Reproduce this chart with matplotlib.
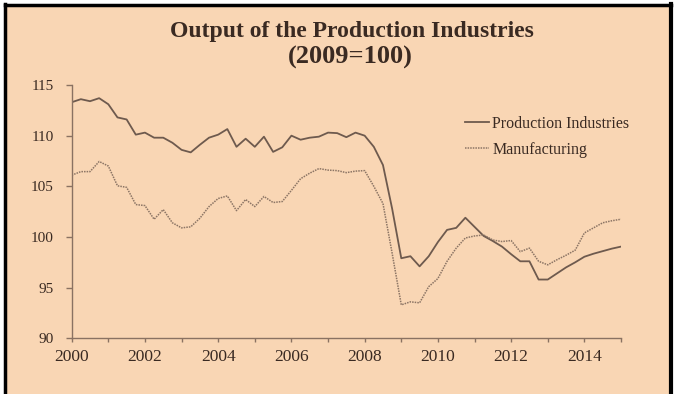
import numpy as np
import matplotlib.pyplot as plt
from matplotlib.lines import Line2D
from matplotlib.patches import Rectangle

# quarterly index values, 2000Q1 .. 2015Q1
years = np.arange(2000, 2015.01, 0.25)

production = [
    113.3, 113.6, 113.4, 113.7,
    113.1, 111.8, 111.6, 110.1,
    110.3, 109.8, 109.8, 109.3,
    108.6, 108.35, 109.1, 109.8,
    110.1, 110.65, 108.9, 109.7,
    108.9, 109.9, 108.4, 108.85,
    110.0, 109.6, 109.8, 109.9,
    110.3, 110.25, 109.85, 110.3,
    110.0, 108.9, 107.1, 102.8,
    97.9, 98.1, 97.1, 98.1,
    99.5, 100.7, 100.9, 101.9,
    101.0, 100.1, 99.6, 99.05,
    98.3, 97.6, 97.6, 95.8,
    95.8, 96.4, 97.0, 97.5,
    98.05, 98.35, 98.6, 98.85,
    99.05,
]

manufacturing = [
    106.1, 106.45, 106.45, 107.45,
    107.0, 105.05, 104.9, 103.2,
    103.1, 101.75, 102.7, 101.4,
    100.9, 101.0, 101.85, 103.0,
    103.8, 104.05, 102.6, 103.7,
    103.0, 104.0, 103.4, 103.5,
    104.6, 105.75, 106.3, 106.75,
    106.6, 106.55, 106.35, 106.5,
    106.55, 105.0, 103.3, 98.4,
    93.3, 93.6, 93.5, 95.1,
    95.9, 97.6, 98.9, 99.9,
    100.1, 100.2, 99.7, 99.55,
    99.65, 98.55, 98.9, 97.6,
    97.25, 97.75, 98.2, 98.7,
    100.4, 100.9, 101.4, 101.6,
    101.75,
]

series_names = ["Production Industries", "Manufacturing"]
x_major = [2000, 2002, 2004, 2006, 2008, 2010, 2012, 2014]
x_ticklabels = ["2000", "2002", "2004", "2006", "2008", "2010", "2012", "2014"]
y_ticks = [90, 95, 100, 105, 110, 115]

peach = "#F9D6B4"
line_col = "#6E5A4E"
dot_col = "#8C7565"
text_col = "#3A2A22"
axis_col = "#8A7262"

plt.rcParams['font.family'] = ['Liberation Serif', 'DejaVu Serif']

fig = plt.figure(figsize=(6.75, 3.94), dpi=100, facecolor="white")
W, H = 675.0, 394.0

# panel background and black frame (open at the bottom)
fig.patches.append(Rectangle((5 / W, 0), 665 / W, 1 - 5 / H, transform=fig.transFigure,
                             facecolor=peach, edgecolor="none", zorder=-1))
fig.add_artist(Line2D([4.5 / W, 4.5 / W], [0, 1 - 4 / H], transform=fig.transFigure,
                      color="black", lw=2.5))
fig.add_artist(Line2D([4.5 / W, 670.5 / W], [1 - 4.5 / H, 1 - 4.5 / H], transform=fig.transFigure,
                      color="black", lw=2.5))
fig.add_artist(Line2D([671 / W, 671 / W], [0, 1 - 4 / H], transform=fig.transFigure,
                      color="black", lw=3))

ax = fig.add_axes([71.7 / W, 1 - 338.3 / H, (621 - 71.7) / W, (338.3 - 85) / H])
ax.set_facecolor("none")
ax.set_zorder(2)

ax.plot(years, production, color=line_col, lw=1.3, label=series_names[0])
ax.plot(years, manufacturing, color=dot_col, lw=1.1, linestyle=(0, (1, 0.7)),
        label=series_names[1])

ax.set_xlim(2000, 2015)
ax.set_ylim(90, 115)
ax.set_xticks(x_major)
ax.set_xticklabels(x_ticklabels)
ax.set_xticks(np.arange(2001, 2016, 2), minor=True)
ax.set_yticks(y_ticks)
ax.set_yticklabels([str(v) for v in y_ticks])

for side in ("top", "right"):
    ax.spines[side].set_visible(False)
for side in ("left", "bottom"):
    ax.spines[side].set_color(axis_col)
    ax.spines[side].set_linewidth(1.0)

ax.tick_params(axis="x", which="both", direction="out", length=3, width=1, color=axis_col,
               labelsize=12.5, labelcolor=text_col, pad=5)
ax.tick_params(axis="y", direction="out", length=4, width=1, color=axis_col,
               labelsize=11, labelcolor=text_col, pad=9)

fig.text(352 / W, 1 - 31 / H, "Output of the Production Industries", ha="center", va="center",
         fontsize=17, fontweight="bold", color=text_col)
fig.text(350 / W, 1 - 57 / H, "(2009=100)", ha="center", va="center",
         fontsize=19, fontweight="bold", color=text_col)

leg = ax.legend(loc="upper left", bbox_to_anchor=(465 / W, 1 - 116 / H),
                bbox_transform=fig.transFigure, frameon=False, fontsize=11.5,
                handlelength=1.5, handletextpad=0.2, labelspacing=0.6,
                borderpad=0, borderaxespad=0, labelcolor=text_col)

fig.savefig("out.png", dpi=100, facecolor=fig.get_facecolor())
